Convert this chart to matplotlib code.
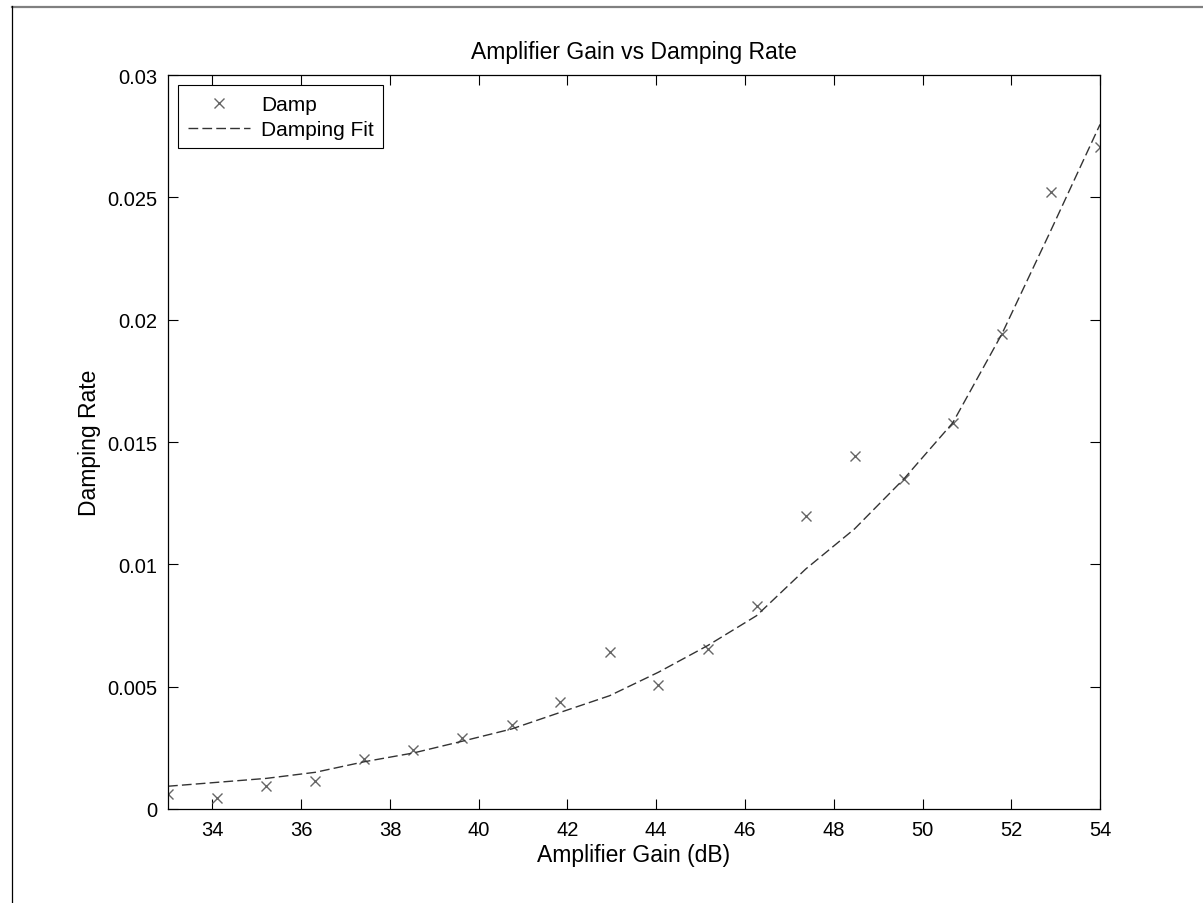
import matplotlib.pyplot as plt
from matplotlib.lines import Line2D

plt.rcParams['font.family'] = ['Liberation Sans', 'DejaVu Sans']

# measured amplifier gain (dB) and damping rate
gain = [33.00, 34.11, 35.21, 36.32, 37.42, 38.53, 39.63, 40.74, 41.84, 42.95,
        44.05, 45.16, 46.26, 47.37, 48.47, 49.58, 50.68, 51.79, 52.89, 54.00]
damp = [0.00061, 0.00045, 0.00095, 0.00113, 0.00204, 0.00243, 0.00292, 0.00345,
        0.00436, 0.00641, 0.00508, 0.00654, 0.00831, 0.01199, 0.01441, 0.01349,
        0.01578, 0.01942, 0.02522, 0.02705]
# fitted curve, same gain points
fit = [0.00093, 0.00109, 0.00125, 0.00150, 0.00193, 0.00229, 0.00277, 0.00327,
       0.00395, 0.00463, 0.00559, 0.00668, 0.00790, 0.00981, 0.01145, 0.01349,
       0.01578, 0.01942, 0.02364, 0.02798]

xticks = [34, 36, 38, 40, 42, 44, 46, 48, 50, 52, 54]
yticks = [0, 0.005, 0.01, 0.015, 0.02, 0.025, 0.03]
ytick_labels = ['0', '0.005', '0.01', '0.015', '0.02', '0.025', '0.03']

fig = plt.figure(figsize=(12.03, 9.04), dpi=100)
ax = fig.add_axes([0.1397, 0.104, 0.9144 - 0.1397, 0.9159 - 0.104])

ax.plot(gain, damp, 'x', color='#666666', markersize=7, markeredgewidth=1.0,
        label='Damp')
ax.plot(gain, fit, color='#333333', linewidth=1.0, dashes=(7, 3),
        label='Damping Fit')

ax.set_xlim(33, 54)
ax.set_ylim(0, 0.03)
ax.set_xticks(xticks)
ax.set_xticklabels([str(t) for t in xticks])
ax.set_yticks(yticks)
ax.set_yticklabels(ytick_labels)
ax.tick_params(direction='in', length=7, width=0.8, labelsize=14.5,
               top=True, right=True)
ax.tick_params(axis='x', pad=8)
ax.tick_params(axis='y', pad=8)
for s in ax.spines.values():
    s.set_linewidth(0.9)

ax.set_title('Amplifier Gain vs Damping Rate', fontsize=16.5, pad=12)
ax.set_xlabel('Amplifier Gain (dB)', fontsize=16.5, labelpad=3)
ax.set_ylabel('Damping Rate', fontsize=16.5, labelpad=4)

leg = ax.legend(loc='upper left', fontsize=15, frameon=True, fancybox=False,
                edgecolor='black', framealpha=1, borderaxespad=0.5,
                handlelength=3.0, handletextpad=0.5, borderpad=0.45,
                labelspacing=0.3)
leg.get_frame().set_linewidth(0.8)

# window frame lines at top and left
fig.add_artist(Line2D([12 / 1203, 1], [1 - 7.5 / 904, 1 - 7.5 / 904],
                      color='#808080', linewidth=1.6))
fig.add_artist(Line2D([12 / 1203, 12 / 1203], [0, 1 - 7 / 904],
                      color='black', linewidth=0.9))

fig.savefig('out.png', dpi=100)
